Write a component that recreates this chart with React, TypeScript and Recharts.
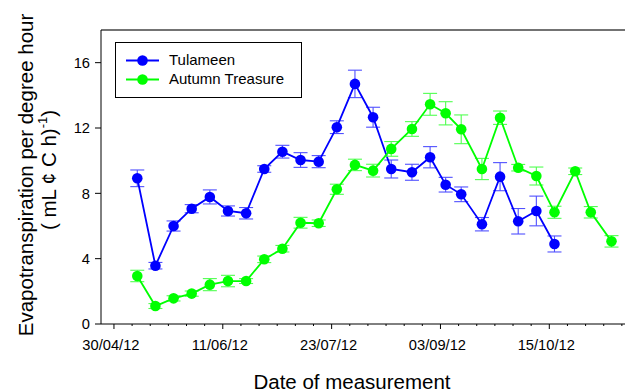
import { LineChart, Line, XAxis, YAxis, ErrorBar, ReferenceLine } from 'recharts';

// measurement dates (weekly, roughly)
const tulameenDates = [
  '2012-05-09', '2012-05-16', '2012-05-23', '2012-05-30', '2012-06-06', '2012-06-13',
  '2012-06-20', '2012-06-27', '2012-07-04', '2012-07-11', '2012-07-18', '2012-07-25',
  '2012-08-01', '2012-08-08', '2012-08-15', '2012-08-23', '2012-08-30', '2012-09-05',
  '2012-09-11', '2012-09-19', '2012-09-26', '2012-10-03', '2012-10-10', '2012-10-17',
];
const tulameenValues = [
  8.92, 3.57, 6.0, 7.06, 7.78, 6.92, 6.78, 9.49, 10.55, 10.04, 9.94, 12.05,
  14.7, 12.66, 9.49, 9.29, 10.21, 8.53, 7.94, 6.11, 9.02, 6.29, 6.92, 4.9,
];
const tulameenErrors = [
  0.51, 0.2, 0.31, 0.25, 0.43, 0.31, 0.35, 0.2, 0.39, 0.45, 0.37, 0.39,
  0.84, 0.61, 0.55, 0.49, 0.65, 0.45, 0.45, 0.41, 0.86, 0.78, 0.91, 0.49,
];

const treasureDates = [...tulameenDates, '2012-10-25', '2012-10-31', '2012-11-08'];
const treasureValues = [
  2.94, 1.1, 1.57, 1.86, 2.41, 2.63, 2.63, 3.96, 4.61, 6.2, 6.17, 8.25,
  9.74, 9.39, 10.72, 11.94, 13.45, 12.9, 11.92, 9.49, 12.63, 9.57, 9.06, 6.84,
  9.35, 6.84, 5.06,
];
const treasureErrors = [
  0.35, 0.15, 0.16, 0.16, 0.37, 0.35, 0.15, 0.2, 0.2, 0.33, 0.2, 0.31,
  0.35, 0.39, 0.45, 0.45, 0.67, 0.71, 0.88, 0.65, 0.41, 0.2, 0.55, 0.37,
  0.2, 0.35, 0.35,
];

const seriesNames = ['Tulameen', 'Autumn Treasure'];
const majorTickDates = ['2012-04-30', '2012-06-11', '2012-07-23', '2012-09-03', '2012-10-15'];
const majorTickLabels = ['30/04/12', '11/06/12', '23/07/12', '03/09/12', '15/10/12'];
const yTicks = [0, 4, 8, 12, 16];

const BLUE = '#0000ff';
const GREEN = '#00ff00';
const FONT = '"Liberation Sans", Arial, sans-serif';

const day = (s: string) =>
  Date.UTC(+s.slice(0, 4), +s.slice(5, 7) - 1, +s.slice(8, 10)) / 864e5;

const tulameen = tulameenDates.map((d, i) => ({
  d: day(d), v: tulameenValues[i], e: tulameenErrors[i],
}));
const treasure = treasureDates.map((d, i) => ({
  d: day(d), v: treasureValues[i], e: treasureErrors[i],
}));

const xMin = day('2012-04-25');
const xMax = day('2012-11-19');
const majorDays = majorTickDates.map(day);

// minor ticks every week, lined up on the major ones
const allTicks: number[] = [];
for (let t = majorDays[0]; t <= xMax; t += 7) allTicks.push(t);

function DateTick(props: any) {
  const { x, y, payload } = props;
  const idx = majorDays.indexOf(payload.value);
  if (idx < 0) {
    return <line x1={x} x2={x} y1={y} y2={y + 2} stroke="#000" strokeWidth={1} />;
  }
  return (
    <g>
      <line x1={x} x2={x} y1={y} y2={y + 5} stroke="#000" strokeWidth={1} />
      <text x={x - 3} y={y + 26} textAnchor="middle" fontSize={14.7} fontFamily={FONT} fill="#000">
        {majorTickLabels[idx]}
      </text>
    </g>
  );
}

function Overlay() {
  return (
    <svg
      width={625}
      height={392}
      style={{ position: 'absolute', left: 0, top: 0, pointerEvents: 'none' }}
    >
      <text
        transform="translate(33,175) rotate(-90)"
        textAnchor="middle"
        fontSize={20.5}
        fontFamily={FONT}
        fill="#000"
      >
        Evapotranspiration per degree hour
      </text>
      <text
        transform="translate(56,170) rotate(-90)"
        textAnchor="middle"
        fontSize={20.5}
        fontFamily={FONT}
        fill="#000"
      >
        ( mL ¢ C h)
        <tspan fontSize={13} dy={-9}>-1</tspan>
        <tspan dy={9}>)</tspan>
      </text>
      <text x={352} y={389} textAnchor="middle" fontSize={20.5} fontFamily={FONT} fill="#000">
        Date of measurement
      </text>

      {/* legend */}
      <rect x={115.5} y={42.5} width={186} height={55} fill="#fff" stroke="#000" strokeWidth={1} />
      <line x1={126} x2={159} y1={60.5} y2={60.5} stroke={BLUE} strokeWidth={1.8} />
      <circle cx={142.5} cy={60.5} r={5.3} fill={BLUE} />
      <text x={169} y={65} fontSize={15} fontFamily={FONT} fill="#000">{seriesNames[0]}</text>
      <line x1={126} x2={159} y1={79.5} y2={79.5} stroke={GREEN} strokeWidth={1.8} />
      <circle cx={142.5} cy={79.5} r={5.3} fill={GREEN} />
      <text x={169} y={84} fontSize={15} fontFamily={FONT} fill="#000">{seriesNames[1]}</text>
    </svg>
  );
}

export default function App() {
  return (
    <div
      style={{
        position: 'absolute', left: 0, top: 0, width: 625, height: 392,
        overflow: 'hidden', background: '#fff',
      }}
    >
      <LineChart width={650} height={392} margin={{ top: 30, right: 10, bottom: 8, left: 41 }}>
        <XAxis
          dataKey="d"
          type="number"
          domain={[xMin, xMax]}
          allowDataOverflow
          ticks={allTicks}
          interval={0}
          tick={<DateTick />}
          tickLine={false}
          tickSize={0}
          tickMargin={0}
          height={60}
          axisLine={{ stroke: '#000', strokeWidth: 1 }}
        />
        <YAxis
          type="number"
          domain={[0, 18]}
          allowDataOverflow
          ticks={yTicks}
          width={60}
          tickSize={6}
          tickMargin={5}
          tickLine={{ stroke: '#000' }}
          axisLine={{ stroke: '#000', strokeWidth: 1 }}
          tick={{ fontSize: 14.7, fontFamily: FONT, fill: '#000' }}
        />
        <ReferenceLine y={18} stroke="#444" strokeWidth={1.5} />
        <Line
          data={tulameen}
          dataKey="v"
          name={seriesNames[0]}
          stroke={BLUE}
          strokeWidth={1.8}
          dot={{ r: 5.3, fill: BLUE, stroke: BLUE, strokeWidth: 0 }}
          isAnimationActive={false}
        >
          <ErrorBar dataKey="e" direction="y" width={7} stroke="#5050ff" strokeWidth={1.1} />
        </Line>
        <Line
          data={treasure}
          dataKey="v"
          name={seriesNames[1]}
          stroke={GREEN}
          strokeWidth={1.8}
          dot={{ r: 5.3, fill: GREEN, stroke: GREEN, strokeWidth: 0 }}
          isAnimationActive={false}
        >
          <ErrorBar dataKey="e" direction="y" width={7} stroke="#50ff50" strokeWidth={1.1} />
        </Line>
      </LineChart>
      <Overlay />
    </div>
  );
}
